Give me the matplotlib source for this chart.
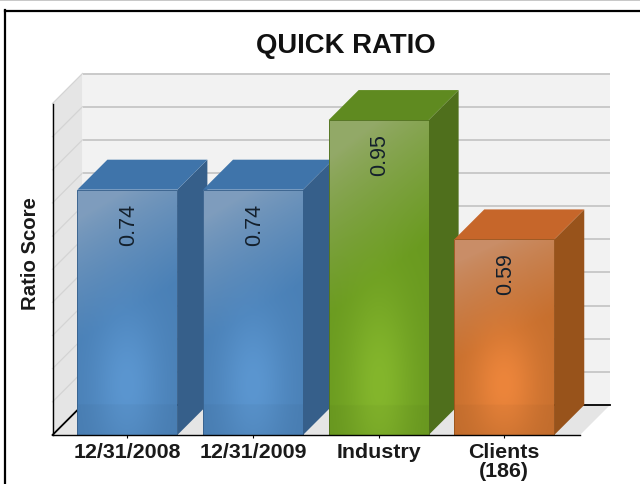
import numpy as np
import matplotlib
matplotlib.use('Agg')
import matplotlib.pyplot as plt
from matplotlib.colors import to_rgb
from matplotlib.lines import Line2D
from matplotlib.patches import Polygon

categories = ['12/31/2008', '12/31/2009', 'Industry', 'Clients\n(186)']
values = [0.74, 0.74, 0.95, 0.59]
value_labels = ['0.74', '0.74', '0.95', '0.59']
grid_values = [0.1, 0.2, 0.3, 0.4, 0.5, 0.6, 0.7, 0.8, 0.9, 1.0]

# colours of each bar: washed top, body, glow, side, top face
wash_colors = ['#7f9dbd', '#7f9dbd', '#93a968', '#c98e68']
body_colors = ['#4a80b6', '#4a80b6', '#6a9a20', '#c66f2e']
glow_colors = ['#5b96d0', '#5b96d0', '#84b62c', '#ec853b']
side_colors = ['#365f8a', '#365f8a', '#4f6f1c', '#98531b']
lid_colors = ['#3f74aa', '#3f74aa', '#5f8a20', '#c6662a']

W, H = 640, 485
plt.rcParams['font.family'] = ['Liberation Sans', 'DejaVu Sans']

fig = plt.figure(figsize=(W / 100, H / 100), dpi=100)
ax = fig.add_axes([52.5 / W, 1 - 436 / H, (580 - 52.5) / W, 331.5 / H])
ax.patch.set_visible(False)

# axis limits and the 3d depth, in data units
x0, x1 = -0.596, 3.603
dx, dy = 30 / 125.6, 30 / 331.5
bar_w = 0.796
ax.set_xlim(x0, x1)
ax.set_ylim(0, 1)

# walls and floor
ax.add_patch(Polygon([(x0 + dx, dy), (x1 + dx, dy), (x1 + dx, 1 + dy), (x0 + dx, 1 + dy)],
                     fc='#f2f2f2', ec='none', clip_on=False, zorder=1))
ax.add_patch(Polygon([(x0, 0), (x0 + dx, dy), (x0 + dx, 1 + dy), (x0, 1)],
                     fc='#e5e5e5', ec='none', clip_on=False, zorder=1))
ax.add_patch(Polygon([(x0, 0), (x1, 0), (x1 + dx, dy), (x0 + dx, dy)],
                     fc='#e5e5e5', ec='none', clip_on=False, zorder=1))

for g in grid_values:
    ax.plot([x0 + dx, x1 + dx], [g + dy, g + dy], color='#c6c6c6', lw=1.3,
            clip_on=False, zorder=2, solid_capstyle='butt')
    ax.plot([x0, x0 + dx], [g, g + dy], color='#d4d4d4', lw=0.9,
            clip_on=False, zorder=2)
ax.plot([x0 + dx, x1 + dx], [dy, dy], color='black', lw=1.3, clip_on=False, zorder=2)
ax.plot([x0, x0 + dx], [0, dy], color='black', lw=1.3, clip_on=False, zorder=2)


def face_shading(wash, body, glow, height):
    # vertical wash into the body colour, with a soft glow low in the middle
    wash, body, glow = [np.array(to_rgb(c)) for c in (wash, body, glow)]
    u, v = np.meshgrid(np.linspace(-1, 1, 100), np.linspace(0, 1, 200))
    t = np.clip((v + 0.12 * u) / 0.5, 0, 1)[..., None] ** 0.8
    img = wash * (1 - t) + body * t
    g = np.exp(-(u ** 2 / 0.45 + (v - (1 - 50 / (height * 331.5))) ** 2 / 0.09))[..., None]
    img = img * (1 - g) + glow * g
    # the floor edge shows faintly through the bar
    img[v > 1 - dy / height] *= 0.97
    return np.clip(img, 0, 1)


for i, val in enumerate(values):
    z = 3 + i
    left, right = i - bar_w / 2, i + bar_w / 2
    rect = ax.bar(i, val, width=bar_w, color='none', edgecolor=side_colors[i], linewidth=0.6,
                  zorder=z + 0.2)[0]
    im = ax.imshow(face_shading(wash_colors[i], body_colors[i], glow_colors[i], val),
                   extent=(left, right, 0, val), aspect='auto', zorder=z + 0.1,
                   interpolation='bilinear')
    im.set_clip_path(rect)
    ax.add_patch(Polygon([(right, 0), (right + dx, dy), (right + dx, val + dy), (right, val)],
                         fc=side_colors[i], ec='none', clip_on=False, zorder=z))
    ax.add_patch(Polygon([(left, val), (right, val), (right + dx, val + dy), (left + dx, val + dy)],
                         fc=lid_colors[i], ec='none', clip_on=False, zorder=z))
    ax.annotate(value_labels[i], (i, val), xytext=(1, -24.5), textcoords='offset points',
                rotation=90, ha='center', va='center', fontsize=15.5, color='#14202c',
                zorder=z + 0.5)

ax.set_xlim(x0, x1)
ax.set_ylim(0, 1)

for side in ['top', 'right']:
    ax.spines[side].set_visible(False)
for side in ['left', 'bottom']:
    ax.spines[side].set_linewidth(1.0)
    ax.spines[side].set_zorder(10)
ax.set_yticks([])
ax.set_xticks(range(len(categories)))
ax.set_xticklabels(categories, fontsize=15.4, fontweight='bold', color='#1a1a1a', linespacing=0.98)
ax.tick_params(axis='x', length=2.5, width=0.8, pad=2.5)

fig.text(30 / W, 1 - 254 / H, 'Ratio Score', rotation=90, ha='center', va='center',
         fontsize=14.7, fontweight='bold', color='#1a1a1a')
fig.text(346 / W, 1 - 46 / H, 'QUICK RATIO', ha='center', va='center',
         fontsize=19.8, fontweight='bold', color='#111111')

# page frame: thin grey rule on top, black rules left and top
fig.add_artist(Line2D([0, 1], [1 - 0.5 / H, 1 - 0.5 / H], color='#bdbdbd', lw=1.2))
fig.add_artist(Line2D([5 / W, 1], [1 - 11.5 / H, 1 - 11.5 / H], color='black', lw=1.6))
fig.add_artist(Line2D([5 / W, 5 / W], [0, 1 - 10.5 / H], color='black', lw=1.6))

fig.savefig('out.png', dpi=100)
